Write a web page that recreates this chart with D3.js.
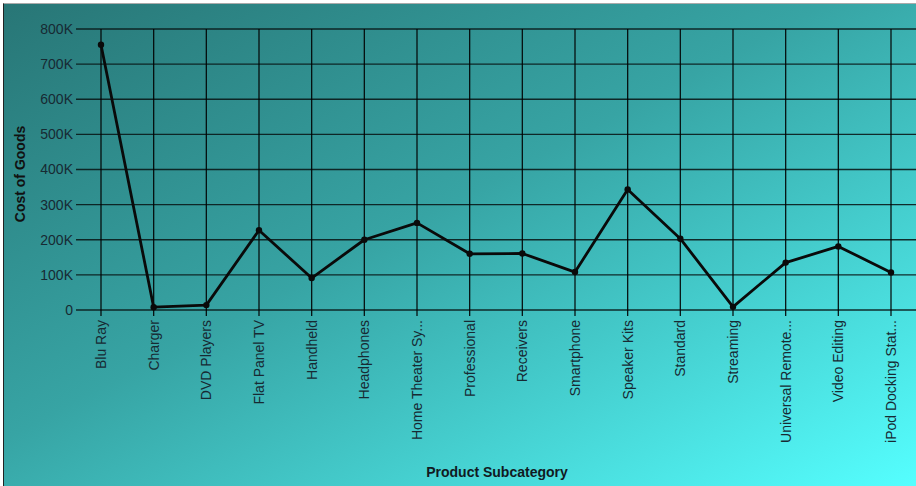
<!DOCTYPE html>
<html>
<head>
<meta charset="utf-8">
<script src="https://cdn.jsdelivr.net/npm/d3@7"></script>
<style>
    html, body { margin: 0; padding: 0; background: #fff; overflow: hidden; }
    #chart { position: absolute; left: 3px; top: 3px; border-left: 1px solid #222; border-top: 1px solid #aaa; }
    text { font-family: "Liberation Sans", Arial, sans-serif; }
</style>
</head>
<body>
<div id="chart"></div>
<script>
    // data
    var categories = ["Blu Ray", "Charger", "DVD Players", "Flat Panel TV", "Handheld", "Headphones",
        "Home Theater System", "Professional", "Receivers", "Smartphone", "Speaker Kits", "Standard",
        "Streaming", "Universal Remote Controls", "Video Editing", "iPod Docking Station"];
    var tickLabels = ["Blu Ray", "Charger", "DVD Players", "Flat Panel TV", "Handheld", "Headphones",
        "Home Theater Sy...", "Professional", "Receivers", "Smartphone", "Speaker Kits", "Standard",
        "Streaming", "Universal Remote...", "Video Editing", "iPod Docking Stat..."];
    var costOfGoods = [755000, 8000, 14000, 227000, 91000, 200000, 248000, 160000, 161000, 108000,
        343000, 203000, 9000, 135000, 181000, 107000];
    var yTicks = [0, 100000, 200000, 300000, 400000, 500000, 600000, 700000, 800000];
    var yTickLabels = ["0", "100K", "200K", "300K", "400K", "500K", "600K", "700K", "800K"];

    var width = 913,
        height = 483,
        left = 72,
        fontSize = 14;

    var svg = d3.select("#chart").append("svg")
        .attr("width", width)
        .attr("height", height)
        .style("display", "block");

    var grad = svg.append("defs").append("linearGradient")
        .attr("id", "bg")
        .attr("x1", "0%").attr("y1", "0%")
        .attr("x2", "100%").attr("y2", "100%");
    grad.append("stop").attr("offset", "0%").attr("stop-color", "#287676");
    grad.append("stop").attr("offset", "45%").attr("stop-color", "#37a4a4");
    grad.append("stop").attr("offset", "100%").attr("stop-color", "#55ffff");

    svg.append("rect")
        .attr("width", width)
        .attr("height", height)
        .attr("fill", "url(#bg)");

    var x = d3.scalePoint()
        .domain(categories)
        .range([97, 887]);

    var y = d3.scaleLinear()
        .domain([0, 800000])
        .range([306, 25]);

    var g = svg.append("g");

    // horizontal grid
    g.append("g")
        .selectAll("line")
        .data(yTicks)
        .enter().append("line")
        .attr("x1", left)
        .attr("x2", width)
        .attr("y1", function (d) { return y(d); })
        .attr("y2", function (d) { return y(d); })
        .attr("stroke", "#0a1a1a")
        .attr("stroke-opacity", 0.9)
        .attr("stroke-width", 1.4);

    // vertical grid
    g.append("g")
        .selectAll("line")
        .data(categories)
        .enter().append("line")
        .attr("x1", function (d) { return x(d); })
        .attr("x2", function (d) { return x(d); })
        .attr("y1", y(800000))
        .attr("y2", y(0) + 6)
        .attr("stroke", "#000")
        .attr("stroke-opacity", 0.9)
        .attr("stroke-width", 1.3);

    // y tick labels
    g.append("g")
        .selectAll("text")
        .data(yTicks)
        .enter().append("text")
        .attr("x", left - 3)
        .attr("y", function (d) { return y(d); })
        .attr("dy", "0.35em")
        .attr("text-anchor", "end")
        .attr("font-size", fontSize)
        .attr("fill", "#172a33")
        .text(function (d, i) { return yTickLabels[i]; });

    // x tick labels
    g.append("g")
        .selectAll("text")
        .data(categories)
        .enter().append("text")
        .attr("transform", function (d) { return "translate(" + (x(d) + 5) + "," + (y(0) + 10) + ") rotate(-90)"; })
        .attr("text-anchor", "end")
        .attr("font-size", fontSize)
        .attr("fill", "#172a33")
        .text(function (d, i) { return tickLabels[i]; });

    // axis titles
    svg.append("text")
        .attr("transform", "translate(21,170) rotate(-90)")
        .attr("text-anchor", "middle")
        .attr("font-size", fontSize)
        .attr("font-weight", "bold")
        .attr("fill", "#111")
        .text("Cost of Goods");

    svg.append("text")
        .attr("x", 493)
        .attr("y", 473)
        .attr("text-anchor", "middle")
        .attr("font-size", fontSize)
        .attr("font-weight", "bold")
        .attr("fill", "#111a22")
        .text("Product Subcategory");

    // series line
    var line = d3.line()
        .x(function (d, i) { return x(categories[i]); })
        .y(function (d) { return y(d); });

    g.append("path")
        .datum(costOfGoods)
        .attr("d", line)
        .attr("fill", "none")
        .attr("stroke", "#0a0a0a")
        .attr("stroke-width", 2.8)
        .attr("stroke-linejoin", "round");

    g.append("g")
        .selectAll("circle")
        .data(costOfGoods)
        .enter().append("circle")
        .attr("cx", function (d, i) { return x(categories[i]); })
        .attr("cy", function (d) { return y(d); })
        .attr("r", 3.2)
        .attr("fill", "#0a0a0a");
</script>
</body>
</html>
